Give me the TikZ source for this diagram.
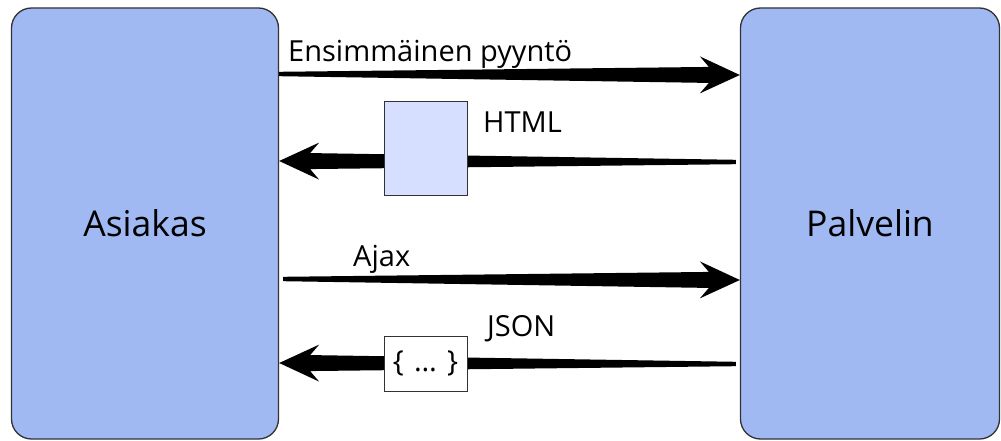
\documentclass[tikz,border=0pt]{standalone}
\usepackage{fontspec}
\setmainfont{Open Sans}
\usetikzlibrary{calc}
\definecolor{boxblue}{RGB}{161,185,242}
\definecolor{msgblue}{RGB}{214,223,255}
\definecolor{edge}{RGB}{50,50,50}
\tikzset{
  party/.style={draw=edge, line width=1.3pt, fill=boxblue, rounded corners=20pt,
    minimum height=431pt, inner sep=0pt,
    font=\fontsize{35.5}{42}\selectfont},
  lbl/.style={anchor=base west, inner sep=0pt, font=\fontsize{29}{34}\selectfont},
  payload/.style={draw=edge, line width=1pt, minimum width=83pt, inner sep=0pt,
    font=\fontsize{29}{34}\selectfont},
}
% tapered arrow from #1 (thin end) to #2 (tip)
\newcommand{\taperarrow}[2]{%
  \coordinate (tmpH) at ($(#2)!31pt!(#1)$);
  \coordinate (tmpB) at ($(#2)!40pt!(#1)$);
  \fill[black] ($(#1)!2.2pt!90:(#2)$) -- ($(tmpH)!8pt!90:(#2)$) -- ($(tmpB)!18.5pt!90:(#2)$)
    -- (#2)
    -- ($(tmpB)!18.5pt!-90:(#2)$) -- ($(tmpH)!8pt!-90:(#2)$) -- ($(#1)!2.2pt!-90:(#2)$) -- cycle;
}
\begin{document}
\begin{tikzpicture}[x=1pt,y=-1pt]
\useasboundingbox (0,0) rectangle (1001,441);
\node[party, minimum width=267pt] (A) at (145,223.5) {Asiakas};
\node[party, minimum width=259pt] (P) at (870,223.5) {Palvelin};
% connector end points on the box edges
\coordinate (r1s) at (A.east |- 0,74);
\coordinate (r1e) at (P.west |- 0,75);
\coordinate (r2s) at ([xshift=-4pt]P.west |- 0,162);
\coordinate (r2e) at (A.east |- 0,161);
\coordinate (r3s) at ([xshift=4pt]A.east |- 0,279);
\coordinate (r3e) at (P.west |- 0,280);
\coordinate (r4s) at ([xshift=-4pt]P.west |- 0,364);
\coordinate (r4e) at (A.east |- 0,363);
\taperarrow{r1s}{r1e}
\taperarrow{r2s}{r2e}
\taperarrow{r3s}{r3e}
\taperarrow{r4s}{r4e}
\node[payload, fill=msgblue, minimum height=93pt] (html) at (425.5,148.5) {};
\node[payload, fill=white, minimum height=55pt] (json) at (425.5,363.5) {\{\hspace{0.35em}…\hspace{0.35em}\}};
\node[lbl] (l1) at (288,62) {Ensimmäinen pyyntö};
\node[lbl] (l2) at (483,132) {HTML};
\node[lbl] (l3) at (353,266) {Ajax};
\node[lbl] (l4) at (487,336) {JSON};
\end{tikzpicture}
\end{document}
